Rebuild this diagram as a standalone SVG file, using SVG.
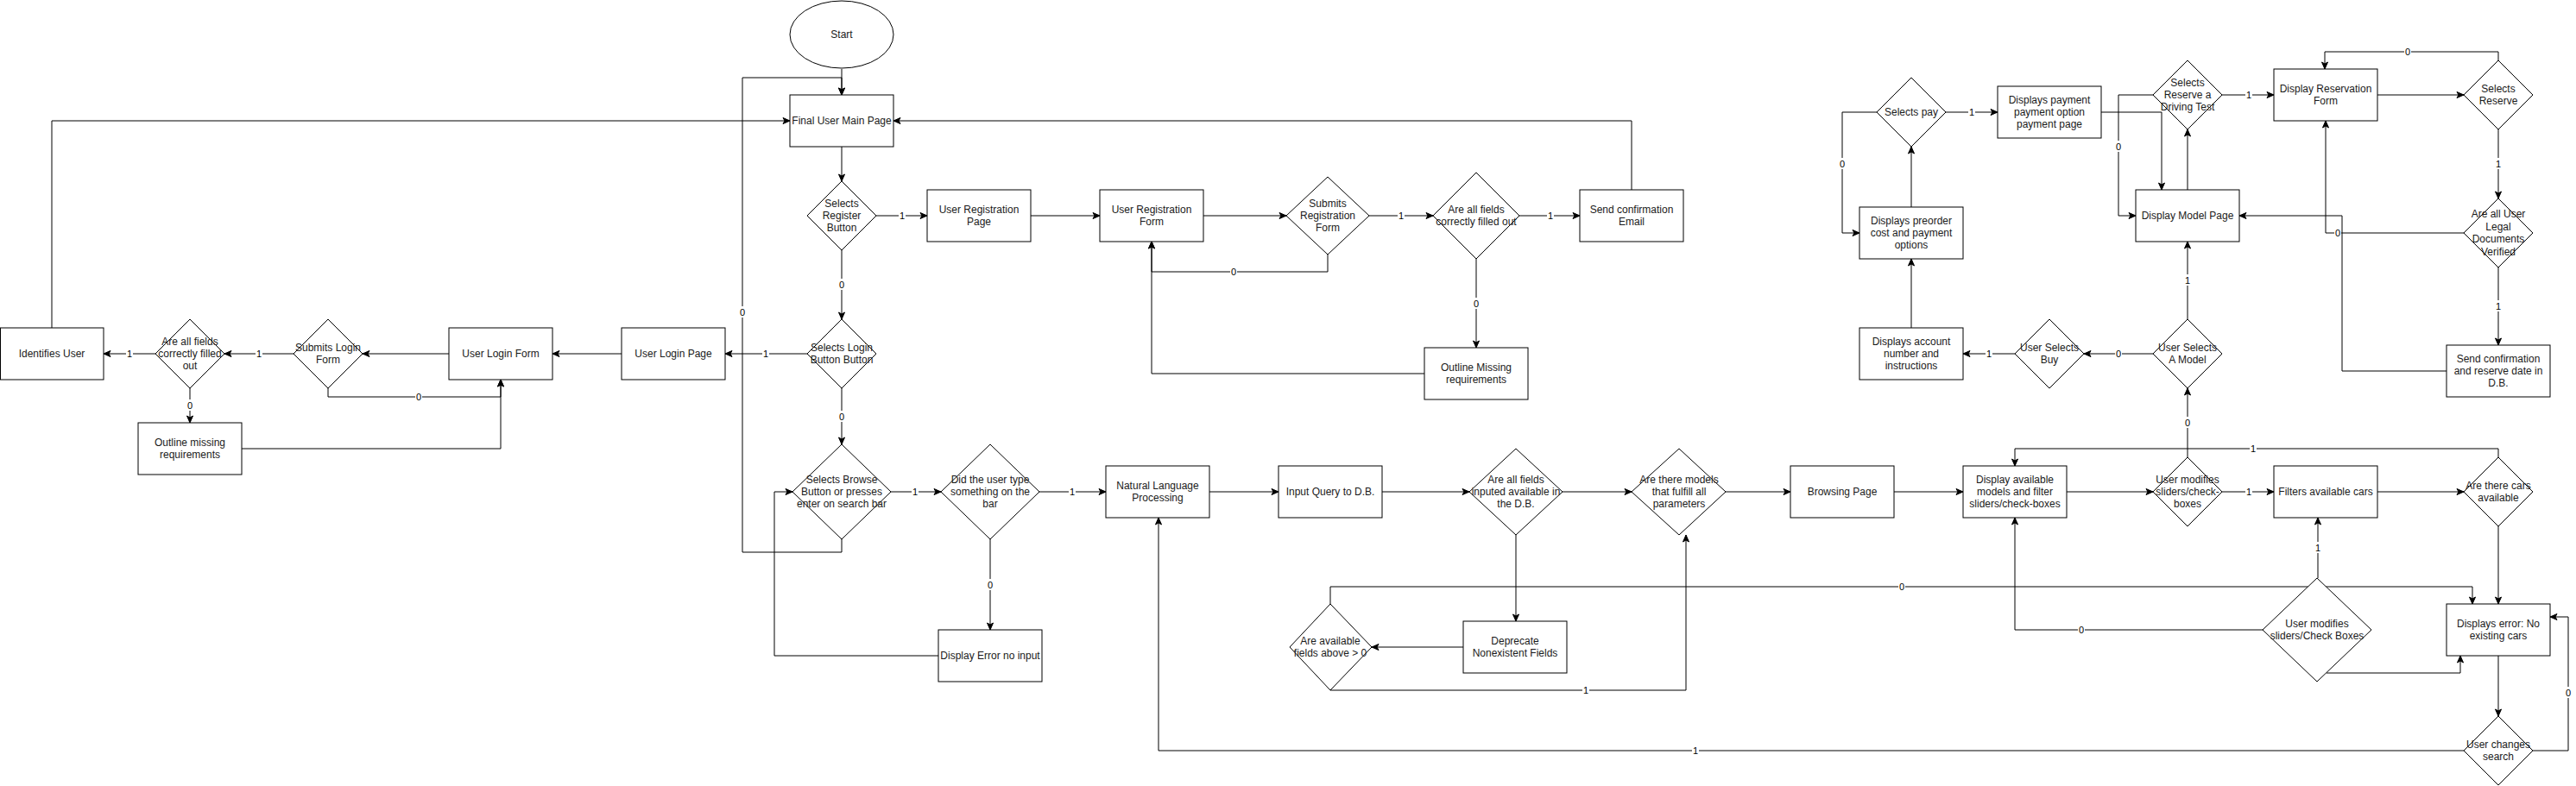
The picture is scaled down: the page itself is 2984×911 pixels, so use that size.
<svg xmlns="http://www.w3.org/2000/svg" width="2984" height="911" viewBox="0 0 2984 911">
<style>
.n{fill:#fff;stroke:#000;stroke-width:1}
.t{font-family:"Liberation Sans",Arial,sans-serif;font-size:12px;text-anchor:middle;fill:#1a1a1a}
.e{fill:none;stroke:#000;stroke-width:1}
.lb rect{fill:#fff}
.lb text{font-family:"Liberation Sans",Arial,sans-serif;font-size:11px;text-anchor:middle;fill:#000}
</style>
<defs>
<marker id="a" markerWidth="10" markerHeight="10" refX="9" refY="5" orient="auto" markerUnits="userSpaceOnUse"><path d="M1,1.5 L9,5 L1,8.5 L3,5 z" fill="#000" stroke="#000" stroke-width="1"/></marker>
</defs>
<rect width="2984" height="911" fill="#fff"/>
<g id="connectors">
<path class="e" d="M975,80 V110" marker-end="url(#a)"/>
<path class="e" d="M975,170 V210" marker-end="url(#a)"/>
<path class="e" d="M1015,250 H1074" marker-end="url(#a)"/>
<path class="e" d="M1194,250 H1274" marker-end="url(#a)"/>
<path class="e" d="M1394,250 H1490" marker-end="url(#a)"/>
<path class="e" d="M1586,250 H1660" marker-end="url(#a)"/>
<path class="e" d="M1760,250 H1830" marker-end="url(#a)"/>
<path class="e" d="M1890,220 V140 H1035" marker-end="url(#a)"/>
<path class="e" d="M1538,295 V315 H1334 V280" marker-end="url(#a)"/>
<path class="e" d="M1710,300 V403" marker-end="url(#a)"/>
<path class="e" d="M1650,433 H1334 V280" marker-end="url(#a)"/>
<path class="e" d="M975,290 V370" marker-end="url(#a)"/>
<path class="e" d="M935,410 H840" marker-end="url(#a)"/>
<path class="e" d="M720,410 H640" marker-end="url(#a)"/>
<path class="e" d="M520,410 H420" marker-end="url(#a)"/>
<path class="e" d="M340,410 H260" marker-end="url(#a)"/>
<path class="e" d="M180,410 H120" marker-end="url(#a)"/>
<path class="e" d="M60,380 V140 H915" marker-end="url(#a)"/>
<path class="e" d="M380,450 V460 H580 V440" marker-end="url(#a)"/>
<path class="e" d="M220,450 V490" marker-end="url(#a)"/>
<path class="e" d="M280,520 H580 V440" marker-end="url(#a)"/>
<path class="e" d="M975,450 V515" marker-end="url(#a)"/>
<path class="e" d="M975,625 V640 H860 V90 H975 V110" marker-end="url(#a)"/>
<path class="e" d="M1032,570 H1090" marker-end="url(#a)"/>
<path class="e" d="M1204,570 H1281" marker-end="url(#a)"/>
<path class="e" d="M1147,625 V730" marker-end="url(#a)"/>
<path class="e" d="M1087,760 H897 V570 H918" marker-end="url(#a)"/>
<path class="e" d="M1401,570 H1481" marker-end="url(#a)"/>
<path class="e" d="M1601,570 H1702" marker-end="url(#a)"/>
<path class="e" d="M1810,570 H1890" marker-end="url(#a)"/>
<path class="e" d="M1999,570 H2074" marker-end="url(#a)"/>
<path class="e" d="M1756,620 V720" marker-end="url(#a)"/>
<path class="e" d="M1695,750 H1589" marker-end="url(#a)"/>
<path class="e" d="M1541,800 H1953 V620" marker-end="url(#a)"/>
<path class="e" d="M1541,700 V680 H2864 V700" marker-end="url(#a)"/>
<path class="e" d="M2194,570 H2274" marker-end="url(#a)"/>
<path class="e" d="M2394,570 H2494" marker-end="url(#a)"/>
<path class="e" d="M2574,570 H2634" marker-end="url(#a)"/>
<path class="e" d="M2534,530 V450" marker-end="url(#a)"/>
<path class="e" d="M2754,570 H2854" marker-end="url(#a)"/>
<path class="e" d="M2894,530 V520 H2334 V540" marker-end="url(#a)"/>
<path class="e" d="M2894,610 V700" marker-end="url(#a)"/>
<path class="e" d="M2894,760 V830" marker-end="url(#a)"/>
<path class="e" d="M2934,870 H2975 V715 H2954" marker-end="url(#a)"/>
<path class="e" d="M2854,870 H1342 V600" marker-end="url(#a)"/>
<path class="e" d="M2685,670 V600" marker-end="url(#a)"/>
<path class="e" d="M2621,730 H2334 V600" marker-end="url(#a)"/>
<path class="e" d="M2695,780 H2850 V760" marker-end="url(#a)"/>
<path class="e" d="M2534,370 V280" marker-end="url(#a)"/>
<path class="e" d="M2494,410 H2414" marker-end="url(#a)"/>
<path class="e" d="M2334,410 H2274" marker-end="url(#a)"/>
<path class="e" d="M2214,380 V300" marker-end="url(#a)"/>
<path class="e" d="M2214,240 V170" marker-end="url(#a)"/>
<path class="e" d="M2254,130 H2314" marker-end="url(#a)"/>
<path class="e" d="M2174,130 H2134 V270 H2154" marker-end="url(#a)"/>
<path class="e" d="M2434,130 H2504 V220" marker-end="url(#a)"/>
<path class="e" d="M2534,220 V150" marker-end="url(#a)"/>
<path class="e" d="M2574,110 H2634" marker-end="url(#a)"/>
<path class="e" d="M2494,110 H2454 V250 H2474" marker-end="url(#a)"/>
<path class="e" d="M2754,110 H2854" marker-end="url(#a)"/>
<path class="e" d="M2894,70 V60 H2693 V80" marker-end="url(#a)"/>
<path class="e" d="M2894,150 V230" marker-end="url(#a)"/>
<path class="e" d="M2854,270 H2694 V140" marker-end="url(#a)"/>
<path class="e" d="M2894,310 V400" marker-end="url(#a)"/>
<path class="e" d="M2834,430 H2713 V250 H2594" marker-end="url(#a)"/>
<g class="lb">
<rect x="1041" y="243" width="8" height="13"/><text x="1045" y="254">1</text>
<rect x="1619" y="243" width="8" height="13"/><text x="1623" y="254">1</text>
<rect x="1792" y="243" width="8" height="13"/><text x="1796" y="254">1</text>
<rect x="1425" y="308" width="8" height="13"/><text x="1429" y="319">0</text>
<rect x="1706" y="345" width="8" height="13"/><text x="1710" y="356">0</text>
<rect x="971" y="323" width="8" height="13"/><text x="975" y="334">0</text>
<rect x="883" y="403" width="8" height="13"/><text x="887" y="414">1</text>
<rect x="296" y="403" width="8" height="13"/><text x="300" y="414">1</text>
<rect x="146" y="403" width="8" height="13"/><text x="150" y="414">1</text>
<rect x="481" y="453" width="8" height="13"/><text x="485" y="464">0</text>
<rect x="216" y="463" width="8" height="13"/><text x="220" y="474">0</text>
<rect x="971" y="476" width="8" height="13"/><text x="975" y="487">0</text>
<rect x="856" y="355" width="8" height="13"/><text x="860" y="366">0</text>
<rect x="1056" y="563" width="8" height="13"/><text x="1060" y="574">1</text>
<rect x="1238" y="563" width="8" height="13"/><text x="1242" y="574">1</text>
<rect x="1143" y="671" width="8" height="13"/><text x="1147" y="682">0</text>
<rect x="1833" y="793" width="8" height="13"/><text x="1837" y="804">1</text>
<rect x="2199" y="673" width="8" height="13"/><text x="2203" y="684">0</text>
<rect x="2601" y="563" width="8" height="13"/><text x="2605" y="574">1</text>
<rect x="2530" y="483" width="8" height="13"/><text x="2534" y="494">0</text>
<rect x="2606" y="513" width="8" height="13"/><text x="2610" y="524">1</text>
<rect x="2971" y="796" width="8" height="13"/><text x="2975" y="807">0</text>
<rect x="1960" y="863" width="8" height="13"/><text x="1964" y="874">1</text>
<rect x="2681" y="628" width="8" height="13"/><text x="2685" y="639">1</text>
<rect x="2407" y="723" width="8" height="13"/><text x="2411" y="734">0</text>
<rect x="2530" y="318" width="8" height="13"/><text x="2534" y="329">1</text>
<rect x="2450" y="403" width="8" height="13"/><text x="2454" y="414">0</text>
<rect x="2300" y="403" width="8" height="13"/><text x="2304" y="414">1</text>
<rect x="2280" y="123" width="8" height="13"/><text x="2284" y="134">1</text>
<rect x="2130" y="183" width="8" height="13"/><text x="2134" y="194">0</text>
<rect x="2601" y="103" width="8" height="13"/><text x="2605" y="114">1</text>
<rect x="2450" y="163" width="8" height="13"/><text x="2454" y="174">0</text>
<rect x="2785" y="53" width="8" height="13"/><text x="2789" y="64">0</text>
<rect x="2890" y="183" width="8" height="13"/><text x="2894" y="194">1</text>
<rect x="2704" y="263" width="8" height="13"/><text x="2708" y="274">0</text>
<rect x="2890" y="348" width="8" height="13"/><text x="2894" y="359">1</text>
</g>
</g>
<g id="start"><ellipse class="n" cx="975" cy="40" rx="60" ry="39"/><text class="t" x="975" y="44">Start</text></g>
<g id="main"><rect class="n" x="915" y="110" width="120" height="60"/><text class="t" x="975" y="144">Final User Main Page</text></g>
<g id="selReg"><polygon class="n" points="975,210 1015,250 975,290 935,250"/><text class="t" y="239.6"><tspan x="975">Selects</tspan><tspan x="975" dy="14.4">Register</tspan><tspan x="975" dy="14.4">Button</tspan></text></g>
<g id="regPage"><rect class="n" x="1074" y="220" width="120" height="60"/><text class="t" y="246.8"><tspan x="1134">User Registration</tspan><tspan x="1134" dy="14.4">Page</tspan></text></g>
<g id="regForm"><rect class="n" x="1274" y="220" width="120" height="60"/><text class="t" y="246.8"><tspan x="1334">User Registration</tspan><tspan x="1334" dy="14.4">Form</tspan></text></g>
<g id="subReg"><polygon class="n" points="1538,205 1586,250 1538,295 1490,250"/><text class="t" y="239.6"><tspan x="1538">Submits</tspan><tspan x="1538" dy="14.4">Registration</tspan><tspan x="1538" dy="14.4">Form</tspan></text></g>
<g id="regOk"><polygon class="n" points="1710,200 1760,250 1710,300 1660,250"/><text class="t" y="246.8"><tspan x="1710">Are all fields</tspan><tspan x="1710" dy="14.4">correctly filled out</tspan></text></g>
<g id="email"><rect class="n" x="1830" y="220" width="120" height="60"/><text class="t" y="246.8"><tspan x="1890">Send confirmation</tspan><tspan x="1890" dy="14.4">Email</tspan></text></g>
<g id="outline2"><rect class="n" x="1650" y="403" width="120" height="60"/><text class="t" y="429.8"><tspan x="1710">Outline Missing</tspan><tspan x="1710" dy="14.4">requirements</tspan></text></g>
<g id="selLogin"><polygon class="n" points="975,370 1015,410 975,450 935,410"/><text class="t" y="406.8"><tspan x="975">Selects Login</tspan><tspan x="975" dy="14.4">Button Button</tspan></text></g>
<g id="loginPage"><rect class="n" x="720" y="380" width="120" height="60"/><text class="t" x="780" y="414">User Login Page</text></g>
<g id="loginForm"><rect class="n" x="520" y="380" width="120" height="60"/><text class="t" x="580" y="414">User Login Form</text></g>
<g id="subLogin"><polygon class="n" points="380,370 420,410 380,450 340,410"/><text class="t" y="406.8"><tspan x="380">Submits Login</tspan><tspan x="380" dy="14.4">Form</tspan></text></g>
<g id="loginOk"><polygon class="n" points="220,370 260,410 220,450 180,410"/><text class="t" y="399.6"><tspan x="220">Are all fields</tspan><tspan x="220" dy="14.4">correctly filled</tspan><tspan x="220" dy="14.4">out</tspan></text></g>
<g id="identify"><rect class="n" x="0.5" y="380" width="119.5" height="60"/><text class="t" x="60" y="414">Identifies User</text></g>
<g id="outline1"><rect class="n" x="160" y="490" width="120" height="60"/><text class="t" y="516.8"><tspan x="220">Outline missing</tspan><tspan x="220" dy="14.4">requirements</tspan></text></g>
<g id="browse"><polygon class="n" points="975,515 1032,570 975,625 918,570"/><text class="t" y="559.6"><tspan x="975">Selects Browse</tspan><tspan x="975" dy="14.4">Button or presses</tspan><tspan x="975" dy="14.4">enter on search bar</tspan></text></g>
<g id="typed"><polygon class="n" points="1147,515 1204,570 1147,625 1090,570"/><text class="t" y="559.6"><tspan x="1147">Did the user type</tspan><tspan x="1147" dy="14.4">something on the</tspan><tspan x="1147" dy="14.4">bar</tspan></text></g>
<g id="errNoInput"><rect class="n" x="1087" y="730" width="120" height="60"/><text class="t" x="1147" y="764">Display Error no input</text></g>
<g id="nlp"><rect class="n" x="1281" y="540" width="120" height="60"/><text class="t" y="566.8"><tspan x="1341">Natural Language</tspan><tspan x="1341" dy="14.4">Processing</tspan></text></g>
<g id="query"><rect class="n" x="1481" y="540" width="120" height="60"/><text class="t" x="1541" y="574">Input Query to D.B.</text></g>
<g id="inFields"><polygon class="n" points="1756,520 1810,570 1756,620 1702,570"/><text class="t" y="559.6"><tspan x="1756">Are all fields</tspan><tspan x="1756" dy="14.4">inputed available in</tspan><tspan x="1756" dy="14.4">the D.B.</tspan></text></g>
<g id="models"><polygon class="n" points="1945,520 1999,570 1945,620 1890,570"/><text class="t" y="559.6"><tspan x="1945">Are there models</tspan><tspan x="1945" dy="14.4">that fulfill all</tspan><tspan x="1945" dy="14.4">parameters</tspan></text></g>
<g id="browsing"><rect class="n" x="2074" y="540" width="120" height="60"/><text class="t" x="2134" y="574">Browsing Page</text></g>
<g id="deprecate"><rect class="n" x="1695" y="720" width="120" height="60"/><text class="t" y="746.8"><tspan x="1755">Deprecate</tspan><tspan x="1755" dy="14.4">Nonexistent Fields</tspan></text></g>
<g id="avail"><polygon class="n" points="1541,700 1589,750 1541,800 1494,750"/><text class="t" y="746.8"><tspan x="1541">Are available</tspan><tspan x="1541" dy="14.4">fields above &gt; 0</tspan></text></g>
<g id="dispAvail"><rect class="n" x="2274" y="540" width="120" height="60"/><text class="t" y="559.6"><tspan x="2334">Display available</tspan><tspan x="2334" dy="14.4">models and filter</tspan><tspan x="2334" dy="14.4">sliders/check-boxes</tspan></text></g>
<g id="mod1"><polygon class="n" points="2534,530 2574,570 2534,610 2494,570"/><text class="t" y="559.6"><tspan x="2534">User modifies</tspan><tspan x="2534" dy="14.4">sliders/check-</tspan><tspan x="2534" dy="14.4">boxes</tspan></text></g>
<g id="filters"><rect class="n" x="2634" y="540" width="120" height="60"/><text class="t" x="2694" y="574">Filters available cars</text></g>
<g id="cars"><polygon class="n" points="2894,530 2934,570 2894,610 2854,570"/><text class="t" y="566.8"><tspan x="2894">Are there cars</tspan><tspan x="2894" dy="14.4">available</tspan></text></g>
<g id="mod2"><polygon class="n" points="2684,670 2747,730 2684,790 2621,730"/><text class="t" y="726.8"><tspan x="2684">User modifies</tspan><tspan x="2684" dy="14.4">sliders/Check Boxes</tspan></text></g>
<g id="errCars"><rect class="n" x="2834" y="700" width="120" height="60"/><text class="t" y="726.8"><tspan x="2894">Displays error: No</tspan><tspan x="2894" dy="14.4">existing cars</tspan></text></g>
<g id="change"><polygon class="n" points="2894,830 2934,870 2894,910 2854,870"/><text class="t" y="866.8"><tspan x="2894">User changes</tspan><tspan x="2894" dy="14.4">search</tspan></text></g>
<g id="pay"><polygon class="n" points="2214,90 2254,130 2214,170 2174,130"/><text class="t" x="2214" y="134">Selects pay</text></g>
<g id="payDisp"><rect class="n" x="2314" y="100" width="120" height="60"/><text class="t" y="119.6"><tspan x="2374">Displays payment</tspan><tspan x="2374" dy="14.4">payment option</tspan><tspan x="2374" dy="14.4">payment page</tspan></text></g>
<g id="preorder"><rect class="n" x="2154" y="240" width="120" height="60"/><text class="t" y="259.6"><tspan x="2214">Displays preorder</tspan><tspan x="2214" dy="14.4">cost and payment</tspan><tspan x="2214" dy="14.4">options</tspan></text></g>
<g id="account"><rect class="n" x="2154" y="380" width="120" height="60"/><text class="t" y="399.6"><tspan x="2214">Displays account</tspan><tspan x="2214" dy="14.4">number and</tspan><tspan x="2214" dy="14.4">instructions</tspan></text></g>
<g id="buy"><polygon class="n" points="2374,370 2414,410 2374,450 2334,410"/><text class="t" y="406.8"><tspan x="2374">User Selects</tspan><tspan x="2374" dy="14.4">Buy</tspan></text></g>
<g id="selModel"><polygon class="n" points="2534,370 2574,410 2534,450 2494,410"/><text class="t" y="406.8"><tspan x="2534">User Selects</tspan><tspan x="2534" dy="14.4">A Model</tspan></text></g>
<g id="modelPage"><rect class="n" x="2474" y="220" width="120" height="60"/><text class="t" x="2534" y="254">Display Model Page</text></g>
<g id="drive"><polygon class="n" points="2534,70 2574,110 2534,150 2494,110"/><text class="t" y="99.6"><tspan x="2534">Selects</tspan><tspan x="2534" dy="14.4">Reserve a</tspan><tspan x="2534" dy="14.4">Driving Test</tspan></text></g>
<g id="resForm"><rect class="n" x="2634" y="80" width="120" height="60"/><text class="t" y="106.8"><tspan x="2694">Display Reservation</tspan><tspan x="2694" dy="14.4">Form</tspan></text></g>
<g id="reserve"><polygon class="n" points="2894,70 2934,110 2894,150 2854,110"/><text class="t" y="106.8"><tspan x="2894">Selects</tspan><tspan x="2894" dy="14.4">Reserve</tspan></text></g>
<g id="legal"><polygon class="n" points="2894,230 2934,270 2894,310 2854,270"/><text class="t" y="252.4"><tspan x="2894">Are all User</tspan><tspan x="2894" dy="14.4">Legal</tspan><tspan x="2894" dy="14.4">Documents</tspan><tspan x="2894" dy="14.4">Verified</tspan></text></g>
<g id="confDb"><rect class="n" x="2834" y="400" width="120" height="60"/><text class="t" y="419.6"><tspan x="2894">Send confirmation</tspan><tspan x="2894" dy="14.4">and reserve date in</tspan><tspan x="2894" dy="14.4">D.B.</tspan></text></g>
</svg>
